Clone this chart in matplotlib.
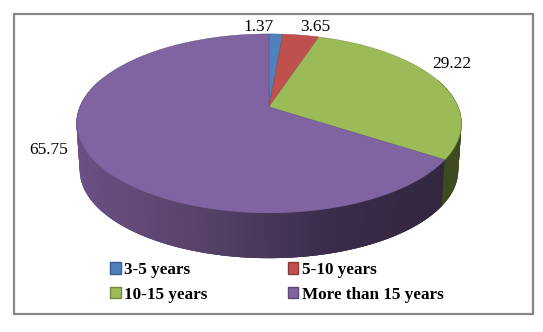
import numpy as np
import matplotlib
matplotlib.use("Agg")
import matplotlib.pyplot as plt
from matplotlib.patches import Patch, Rectangle
from matplotlib.colors import to_rgb

categorias = ["3-5 years", "5-10 years", "10-15 years", "More than 15 years"]
valores = [1.37, 3.65, 29.22, 65.75]
cores = ["#4f81bd", "#c0504d", "#9bbb59", "#8064a2"]
bordas = ["#385d8a", "#8c3836", "#71893f", "#5c4776"]

plt.rcParams["font.family"] = ["Liberation Serif", "DejaVu Serif"]

fig = plt.figure(figsize=(5.43, 3.32), dpi=100)
ax = fig.add_axes([0, 0, 1, 1])
ax.set_xlim(0, 543)
ax.set_ylim(332, 0)
ax.axis("off")

ax.add_patch(Rectangle((14, 14), 519, 300, fc="white", ec="#868686", lw=1.6))


# circulo em perspectiva: angulo (graus, horario a partir do topo) para pixels
def topo(ang):
    t = np.radians(ang)
    w = 1 + 0.184 * np.cos(t)
    return 269 + 189.2 * np.sin(t) / w, 107 - 86.5 * np.cos(t) / w


def base(ang):
    t = np.radians(ang)
    w = 1 + 0.184 * np.cos(t)
    return 269 + 186 * np.sin(t) / w, 154 - 85 * np.cos(t) / w


def cor_lateral(x):
    xs = [76, 200, 330, 445]
    stops = np.array([to_rgb(c) for c in ["#6a5085", "#574369", "#3b2c4b", "#33263f"]])
    return [np.interp(x, xs, stops[:, i]) for i in range(3)]


limites = np.cumsum([0] + valores) / sum(valores) * 360

# lateral
for ang in np.arange(70, 290, 0.5):
    x1, y1 = topo(np.array([ang, ang + 1.5]))
    x2, y2 = base(np.array([ang + 1.5, ang]))
    if ang < limites[3]:
        c = "#3f4a20"
    else:
        c = cor_lateral(x1[0])
    ax.fill(np.r_[x1, x2], np.r_[y1, y2], color=c, lw=0, zorder=2)

# fatias do topo
for i in range(len(valores)):
    angs = np.linspace(limites[i], limites[i + 1], 200)
    x, y = topo(angs)
    ax.fill(np.r_[269, x], np.r_[107, y], fc=cores[i], ec=bordas[i], lw=0.3, zorder=3)

# rotulos
pos_rotulos = [(258.5, 27), (315, 27), (452, 64.5), (49, 150)]
for v, (x, y) in zip(valores, pos_rotulos):
    ax.text(x, y, f"{v:.2f}", ha="center", va="center", fontsize=12.5, color="black", zorder=4)

handles = [Patch(fc=c, ec=b, lw=1) for c, b in zip(cores, bordas)]
# ordem por coluna: 3-5 / 10-15, depois 5-10 / mais de 15
ordem = [0, 2, 1, 3]
leg = ax.legend(
    [handles[i] for i in ordem],
    [categorias[i] for i in ordem],
    ncol=2,
    loc="upper left",
    bbox_to_anchor=(110 / 543, 1 - 262 / 332),
    frameon=False,
    prop={"weight": "bold", "size": 12.3},
    handlelength=0.62,
    handleheight=0.62,
    handletextpad=0.2,
    columnspacing=4.7,
    labelspacing=0.5,
    borderpad=0,
    borderaxespad=0,
)

fig.savefig("out.png", dpi=100)
